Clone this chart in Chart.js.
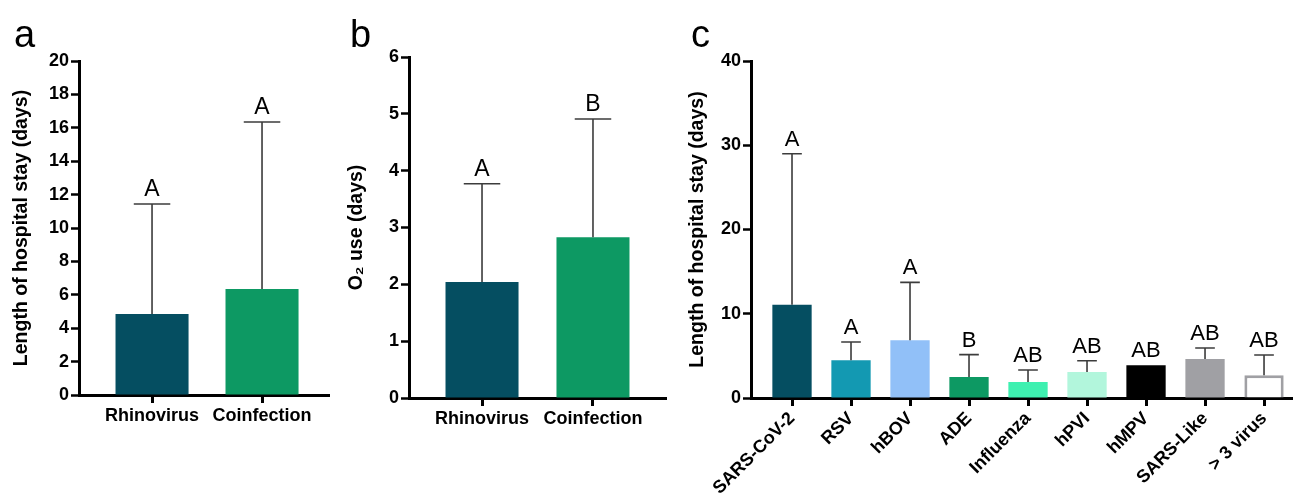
<!DOCTYPE html>
<html>
<head>
<meta charset="utf-8">
<script src="https://cdn.jsdelivr.net/npm/chart.js@4"></script>
<style>
  html, body { margin: 0; padding: 0; background: #fff; }
  #wrap { position: relative; width: 1293px; height: 497px; overflow: hidden; font-family: 'Liberation Sans', Arial, sans-serif; }
  #wrap canvas { position: absolute; top: 0; }
  .tag { position: absolute; top: 15px; font-size: 38px; line-height: 1; color: #000; }
</style>
</head>
<body>
<div id="wrap">
  <canvas id="chartA" width="330" height="497" style="left:0px"></canvas>
  <canvas id="chartB" width="330" height="497" style="left:340px"></canvas>
  <canvas id="chartC" width="607" height="497" style="left:686px"></canvas>
  <div class="tag" style="left:14px">a</div>
  <div class="tag" style="left:350px">b</div>
  <div class="tag" style="left:691px">c</div>
</div>
<script>
// --- data ---
const groupLabels = ['Rhinovirus', 'Coinfection'];

const stayMeans = [4.85, 6.35];
const stayUpper = [11.44, 16.35];
const stayLetters = ['A', 'A'];

const o2Means = [2.04, 2.83];
const o2Upper = [3.77, 4.91];
const o2Letters = ['A', 'B'];

const virusLabels = ['SARS-CoV-2', 'RSV', 'hBOV', 'ADE', 'Influenza', 'hPVI', 'hMPV', 'SARS-Like', '> 3 virus'];
const virusMeans = [11.08, 4.47, 6.84, 2.49, 1.90, 3.08, 3.88, 4.63, 2.69];
const virusUpper = [28.99, 6.64, 13.72, 5.15, 3.32, 4.43, 3.88, 5.93, 5.10];
const virusLetters = ['A', 'A', 'A', 'B', 'AB', 'AB', 'AB', 'AB', 'AB'];

// --- styles ---
const groupColors = ['#054e61', '#0d9963'];
const virusColors = ['#054e61', '#1399b2', '#91c0f8', '#0d9963', '#3ef0b0', '#b2f6dc', '#000000', '#a0a0a4', '#ffffff'];
const virusBorders = ['#054e61', '#1399b2', '#91c0f8', '#0d9963', '#3ef0b0', '#b2f6dc', '#000000', '#a0a0a4', '#a0a0a4'];
const virusBorderWidths = [0, 0, 0, 0, 0, 0, 0, 0, 3];

Chart.defaults.font.family = "'Liberation Sans', Arial, sans-serif";
Chart.defaults.color = '#000';

// error bar (upper only) + significance letter above the cap
const errorBars = {
  id: 'errorBars',
  afterDatasetsDraw(chart, args, opts) {
    const ctx = chart.ctx;
    const yScale = chart.scales.y;
    const meta = chart.getDatasetMeta(0);
    ctx.save();
    meta.data.forEach((bar, i) => {
      const top = yScale.getPixelForValue(opts.upper[i]);
      const half = bar.width / 4;
      if (opts.upper[i] > opts.means[i]) {
        ctx.strokeStyle = '#3c3c3c';
        ctx.lineWidth = 1.6;
        ctx.beginPath();
        ctx.moveTo(bar.x, bar.y);
        ctx.lineTo(bar.x, top);
        ctx.moveTo(bar.x - half, top);
        ctx.lineTo(bar.x + half, top);
        ctx.stroke();
      }
      ctx.fillStyle = '#000';
      ctx.font = opts.letterSize + "px 'Liberation Sans', Arial, sans-serif";
      ctx.textAlign = 'center';
      ctx.textBaseline = 'alphabetic';
      ctx.fillText(opts.letters[i], bar.x, top - opts.gap);
    });
    ctx.restore();
  }
};

function makePanel(id, p) {
  return new Chart(document.getElementById(id), {
    type: 'bar',
    data: {
      datasets: [{
        data: p.labels.map((l, i) => ({ x: i + 1, y: p.means[i] })),
        backgroundColor: p.colors,
        borderColor: p.borders || p.colors,
        borderWidth: p.borderWidths || 0,
        categoryPercentage: 1,
        barPercentage: p.barPct
      }]
    },
    options: {
      responsive: false,
      animation: false,
      layout: { padding: { top: p.top, right: p.right, left: 0, bottom: 0 } },
      plugins: {
        legend: { display: false },
        tooltip: { enabled: false },
        errorBars: { means: p.means, upper: p.upper, letters: p.letters, letterSize: p.letterSize, gap: 8 }
      },
      scales: {
        x: {
          type: 'linear',
          min: p.xMin,
          max: p.xMax,
          offset: false,
          afterBuildTicks(s) { s.ticks = p.labels.map((l, i) => ({ value: i + 1 })); },
          ticks: {
            callback: (v, i) => p.labels[i],
            autoSkip: false,
            minRotation: p.rotation,
            maxRotation: p.rotation,
            padding: 2,
            font: { size: p.xFont, weight: 'bold' }
          },
          grid: { offset: false, drawOnChartArea: false, drawTicks: true, tickLength: 8, tickWidth: 3, color: '#000' },
          border: { color: '#000', width: 3 },
          afterFit(s) { s.height = p.xHeight; }
        },
        y: {
          min: 0,
          max: p.yMax,
          ticks: { stepSize: p.yStep, padding: 2, font: { size: 18, weight: 'bold' } },
          grid: { drawOnChartArea: false, drawTicks: true, tickLength: 8, tickWidth: 2.5, color: '#000' },
          border: { color: '#000', width: 3 },
          title: { display: true, text: p.yTitle, font: { size: 19.5, weight: 'bold' }, padding: { top: p.titlePad, bottom: 0 } },
          afterFit(s) { s.width = p.yWidth; }
        }
      }
    },
    plugins: [errorBars]
  });
}

makePanel('chartA', {
  labels: groupLabels, means: stayMeans, upper: stayUpper, letters: stayLetters,
  colors: groupColors, barPct: 0.664,
  xMin: 0.336, xMax: 2.618, yMax: 20, yStep: 2,
  yTitle: 'Length of hospital stay (days)',
  top: 61, right: 0, yWidth: 79, xHeight: 102, titlePad: 10,
  rotation: 0, xFont: 18, letterSize: 23
});

makePanel('chartB', {
  labels: groupLabels, means: o2Means, upper: o2Upper, letters: o2Letters,
  colors: groupColors, barPct: 0.658,
  xMin: 0.342, xMax: 2.658, yMax: 6, yStep: 1,
  yTitle: 'O\u2082 use (days)',
  top: 57, right: 4, yWidth: 69, xHeight: 99, titlePad: 5,
  rotation: 0, xFont: 18, letterSize: 23
});

makePanel('chartC', {
  labels: virusLabels, means: virusMeans, upper: virusUpper, letters: virusLetters,
  colors: virusColors, borders: virusBorders, borderWidths: virusBorderWidths, barPct: 0.666,
  xMin: 0.305, xMax: 9.491, yMax: 40, yStep: 10,
  yTitle: 'Length of hospital stay (days)',
  top: 61, right: 0, yWidth: 65, xHeight: 99, titlePad: 0,
  rotation: 45, xFont: 18, letterSize: 22
});
</script>
</body>
</html>
